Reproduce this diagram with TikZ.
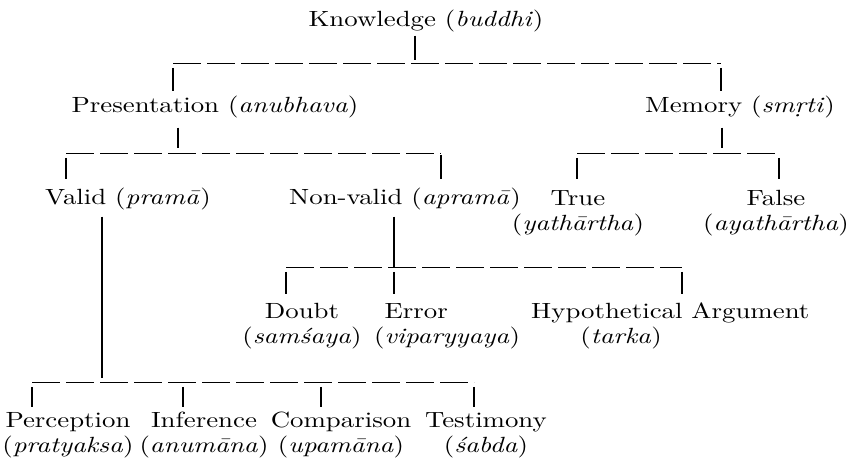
\documentclass[tikz,border=0pt]{standalone}
\usepackage{fontspec}
\setmainfont{lmroman10-regular}[Extension=.otf, ItalicFont=lmroman10-italic,
  FakeStretch=1.22]
\usepackage{tikz}
\tikzset{
  lbl/.style = {align=center, inner sep=3pt, anchor=base,
    font=\fontsize{22}{25.5}\selectfont},
  stem/.style = {draw=black, line width=1.2pt},% vertical strokes
  bar/.style = {draw=black, line width=0.9pt,
    dash pattern=on 28pt off 6pt},% broken horizontal rules
  drop/.style = {stem, shorten <=5pt, shorten >=#1},
  drop/.default = 6pt
}

\begin{document}
\begin{tikzpicture}[x=1pt,y=-1pt]
  \useasboundingbox (0,0) rectangle (852,470);
  % labels
  \node[lbl] (know) at (426,27) {Knowledge (\textit{buddhi})};
  \node[lbl] (pres) at (215,113) {Presentation (\textit{anubhava})};
  \node[lbl] (mem) at (740,113) {Memory (\textit{sm\d{r}ti})};
  \node[lbl] (valid) at (128,205) {Valid (\textit{pram\=a})};
  \node[lbl] (nonvalid) at (405,205) {Non-valid (\textit{apram\=a})};
  \node[lbl] (memtrue) at (578,231) {True\\(\textit{yath\=artha})};
  \node[lbl] (memfalse) at (776,231) {False\\(\textit{ayath\=artha})};
  \node[lbl] (doubt) at (302,344) {Doubt\\(\textit{sam\'saya})};
  \node[lbl, align=left, anchor=base west] (error) at (371,344)
    {\hphantom{(}Error\\(\textit{viparyyaya})};
  \node[lbl, align=left, anchor=base west] (hypo) at (528,344)
    {Hypothetical Argument\\\hphantom{Hyp}(\textit{tarka})};
  \node[lbl] (perc) at (68,453) {Perception\\(\textit{pratyaksa})};
  \node[lbl] (infer) at (204,453) {Inference\\(\textit{anum\=ana})};
  \node[lbl] (comp) at (341,453) {Comparison\\(\textit{upam\=ana})};
  \node[lbl] (test) at (486,453) {Testimony\\(\textit{\'sabda})};

  % junction points
  \coordinate (kb) at (415,63);
  \coordinate (kbL) at (173,63);
  \coordinate (kbR) at (721,63);
  \coordinate (pb) at (178,153);
  \coordinate (pbL) at (66,153);
  \coordinate (pbR) at (441,153);
  \coordinate (mb) at (722,153);
  \coordinate (mbL) at (577,153);
  \coordinate (mbR) at (779,153);
  \coordinate (nb) at (394,267);
  \coordinate (nbL) at (286,267);
  \coordinate (nbR) at (682,267);
  \coordinate (vb) at (102,382);
  \coordinate (vbL) at (32,382);
  \coordinate (vbA) at (183,382);
  \coordinate (vbB) at (321,382);
  \coordinate (vbR) at (474,382);

  % knowledge
  \draw[stem, shorten >=3pt] (kb |- know.south) -- (kb);
  \draw[bar] (kbL) -- (kbR);
  \draw[drop=2pt] (kbL) -- (kbL |- pres.north);
  \draw[drop=2pt] (kbR) -- (kbR |- mem.north);
  % presentation
  \draw[stem, shorten <=6pt, shorten >=5pt] (pb |- pres.south) -- (pb);
  \draw[bar] (pbL) -- (pbR);
  \draw[drop] (pbL) -- (pbL |- valid.north);
  \draw[drop, shorten <=2pt] (pbR) -- (pbR |- nonvalid.north);
  % memory
  \draw[stem, shorten <=6pt, shorten >=5pt] (mb |- mem.south) -- (mb);
  \draw[bar] (mbL) -- (mbR);
  \draw[drop=8pt] (mbL) -- (mbL |- memtrue.north);
  \draw[drop=8pt] (mbR) -- (mbR |- memfalse.north);
  % non-valid
  \draw[stem, shorten <=3pt] (nb |- nonvalid.south) -- (nb);
  \draw[bar] (nbL) -- (nbR);
  \draw[drop] (nbL) -- (nbL |- doubt.north);
  \draw[drop] (nb) -- (nb |- error.north);
  \draw[drop] (nbR) -- (nbR |- hypo.north);
  % valid
  \draw[stem, shorten <=3pt, shorten >=4pt] (vb |- valid.south) -- (vb);
  \draw[bar] (vbL) -- (vbR);
  \draw[drop=2pt] (vbL) -- (vbL |- perc.north);
  \draw[drop=2pt] (vbA) -- (vbA |- infer.north);
  \draw[drop=2pt] (vbB) -- (vbB |- comp.north);
  \draw[drop=2pt] (vbR) -- (vbR |- test.north);
\end{tikzpicture}
\end{document}
